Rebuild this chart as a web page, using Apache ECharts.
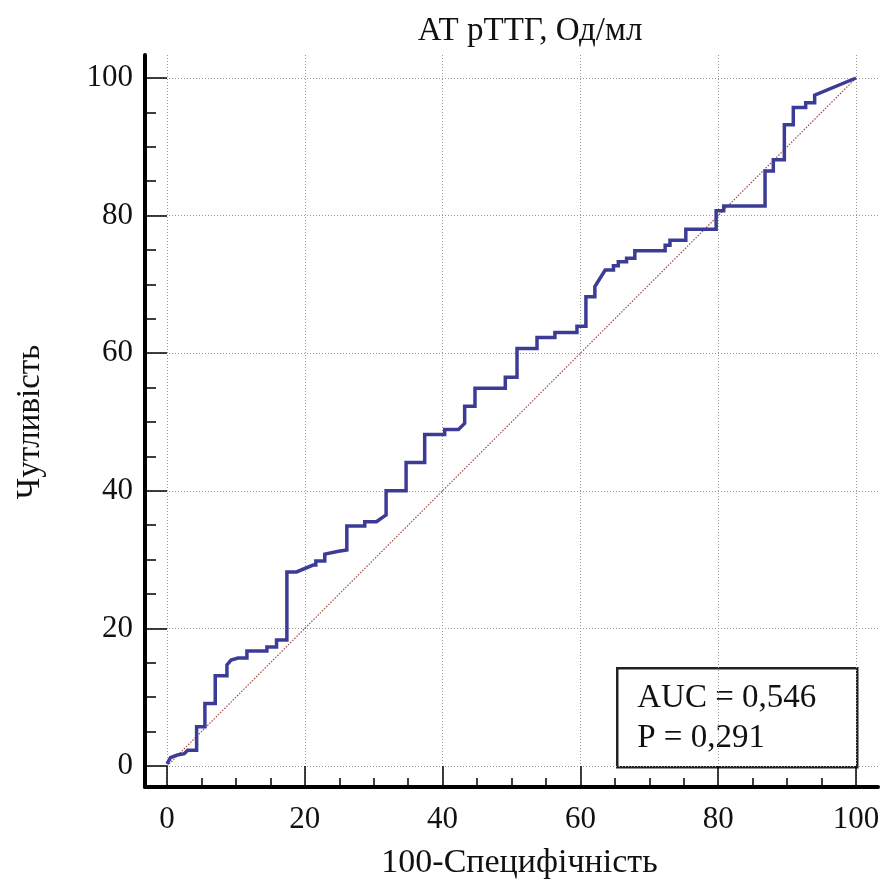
<!DOCTYPE html>
<html><head><meta charset="utf-8">
<script src="https://cdn.jsdelivr.net/npm/echarts@6/dist/echarts.min.js"></script>
<style>html,body{margin:0;padding:0;background:#fff}#c{width:884px;height:881px}</style>
</head><body><div id="c"></div>
<script>
const chartTitle = 'АТ рТТГ, Од/мл';
const xAxisName = '100-Специфічність';
const yAxisName = 'Чутливість';
const tickValues = [0, 20, 40, 60, 80, 100];

// ROC curve vertices (100-Specificity, Sensitivity)
const rocX = [0, 0.5, 1.5, 2.5, 3.0, 4.3, 4.3, 5.5, 5.5, 7.0, 7.0, 8.7, 8.7, 9.3, 10.3, 11.6, 11.6, 14.5, 14.5, 15.9, 15.9, 17.4, 17.4,
  18.8, 21.2, 21.6, 21.6, 22.9, 22.9, 24.9, 26.1, 26.1, 28.7, 28.7, 30.4, 31.8, 31.8, 34.7, 34.7, 37.4, 37.4, 40.3, 40.3, 42.3, 43.2, 43.2,
  44.7, 44.7, 49.1, 49.1, 50.8, 50.8, 53.7, 53.7, 56.3, 56.3, 59.5, 59.5, 60.8, 60.8, 62.1, 62.1, 63.6, 64.8, 64.8, 65.5, 65.5, 66.7, 66.7,
  67.9, 67.9, 72.3, 72.3, 73.0, 73.0, 75.3, 75.3, 79.7, 79.7, 80.8, 80.8, 86.8, 86.8, 88.0, 88.0, 89.6, 89.6, 90.9, 90.9, 92.7, 92.7,
  94.0, 94.0, 100];
const rocY = [0.3, 1.2, 1.6, 1.8, 2.3, 2.3, 5.7, 5.7, 9.1, 9.1, 13.1, 13.1, 14.7, 15.4, 15.7, 15.7, 16.7, 16.7, 17.3, 17.3, 18.3, 18.3, 28.2,
  28.2, 29.2, 29.2, 29.8, 29.8, 30.8, 31.2, 31.4, 34.9, 34.9, 35.5, 35.5, 36.5, 40.0, 40.0, 44.1, 44.1, 48.2, 48.2, 48.9, 48.9, 49.8, 52.3,
  52.3, 54.9, 54.9, 56.5, 56.5, 60.7, 60.7, 62.3, 62.3, 63.0, 63.0, 63.9, 63.9, 68.2, 68.2, 69.7, 72.1, 72.1, 72.7, 72.7, 73.3, 73.3, 73.8,
  73.8, 74.9, 74.9, 75.7, 75.7, 76.4, 76.4, 78.0, 78.0, 80.7, 80.7, 81.4, 81.4, 86.5, 86.5, 88.1, 88.1, 93.2, 93.2, 95.7, 95.7, 96.4,
  96.4, 97.5, 100];

const diagX = [0, 100];
const diagY = [0, 100];
const statLines = ['AUC = 0,546', 'P = 0,291'];

// layout (pixels)
const frame = { left: 145, top: 55, right: 878, bottom: 787 };
const plot = { left: 167, top: 78, right: 856, bottom: 766 };
const pxX = (plot.right - plot.left) / 100;
const pxY = (plot.bottom - plot.top) / 100;
const FONT = 'Liberation Serif';

const chart = echarts.init(document.getElementById('c'), null, { renderer: 'canvas' });
const gridLine = { show: true, lineStyle: { color: '#9a9a9a', width: 1, type: [1, 2] } };

chart.setOption({
  animation: false,
  backgroundColor: '#fff',
  title: {
    text: chartTitle, left: 525, top: 10, textAlign: 'center',
    textStyle: { fontFamily: FONT, fontSize: 33, fontWeight: 'normal', color: '#111' }
  },
  grid: [
    { left: frame.left, top: frame.top, width: frame.right - frame.left, height: frame.bottom - frame.top, containLabel: false, outerBoundsMode: 'none' },
    { left: plot.left, top: plot.top, width: plot.right - plot.left, height: plot.bottom - plot.top, containLabel: false, outerBoundsMode: 'none' }
  ],
  xAxis: [
    {
      gridIndex: 0, type: 'value',
      min: -(plot.left - frame.left) / pxX, max: 100 + (frame.right - plot.right) / pxX,
      axisLine: { show: true, onZero: false, lineStyle: { color: '#000', width: 4 } },
      axisTick: { show: false, customValues: tickValues },
      axisLabel: { show: false, customValues: tickValues },
      splitLine: gridLine
    },
    {
      gridIndex: 1, type: 'value', min: 0, max: 100, interval: 20, position: 'bottom',
      offset: frame.bottom - plot.bottom,
      axisLine: { show: false, onZero: false },
      axisTick: { show: true, inside: true, length: 21, lineStyle: { color: '#000', width: 1.5 } },
      minorTick: { show: true, splitNumber: 4, length: 9, lineStyle: { color: '#000', width: 1.5 } },
      axisLabel: { fontFamily: FONT, fontSize: 31, color: '#111', margin: 17 },
      splitLine: { show: false },
      name: xAxisName, nameLocation: 'middle', nameGap: 59,
      nameTextStyle: { fontFamily: FONT, fontSize: 34, color: '#111', padding: [0, 0, 0, 16] }
    }
  ],
  yAxis: [
    {
      gridIndex: 0, type: 'value',
      min: -(frame.bottom - plot.bottom) / pxY, max: 100 + (plot.top - frame.top) / pxY,
      axisLine: { show: true, onZero: false, lineStyle: { color: '#000', width: 4 } },
      axisTick: { show: false, customValues: tickValues },
      axisLabel: { show: false, customValues: tickValues },
      splitLine: gridLine
    },
    {
      gridIndex: 1, type: 'value', min: 0, max: 100, interval: 20, position: 'left',
      offset: plot.left - frame.left,
      axisLine: { show: false, onZero: false },
      axisTick: { show: true, inside: true, length: 22, lineStyle: { color: '#000', width: 1.5 } },
      minorTick: { show: true, splitNumber: 4, length: 11, lineStyle: { color: '#000', width: 1.5 } },
      axisLabel: { fontFamily: FONT, fontSize: 31, color: '#111', margin: 12 },
      splitLine: { show: false },
      name: yAxisName, nameLocation: 'middle', nameGap: 98,
      nameTextStyle: { fontFamily: FONT, fontSize: 33, color: '#111' }
    }
  ],
  series: [
    {
      type: 'line', xAxisIndex: 1, yAxisIndex: 1, showSymbol: false, silent: true, z: 3,
      data: diagX.map((x, i) => [x, diagY[i]]),
      lineStyle: { color: '#a04a44', width: 1.2, type: [1.5, 1.5] }
    },
    {
      type: 'line', xAxisIndex: 1, yAxisIndex: 1, showSymbol: false, silent: true, z: 4,
      data: rocX.map((x, i) => [x, rocY[i]]),
      lineStyle: { color: '#3c3c96', width: 3.5, join: 'miter' }
    }
  ],
  graphic: [
    {
      type: 'group', left: 616, top: 667, z: 100,
      children: [
        { type: 'rect', shape: { x: 0, y: 0, width: 240, height: 99 }, style: { fill: '#fff', stroke: '#222', lineWidth: 2.5 } },
        { type: 'text', x: 20, y: 30, style: { text: statLines[0], font: '33px "Liberation Serif"', fill: '#111', textVerticalAlign: 'middle' } },
        { type: 'text', x: 20, y: 70, style: { text: statLines[1], font: '33px "Liberation Serif"', fill: '#111', textVerticalAlign: 'middle' } }
      ]
    }
  ]
});
</script>
</body></html>
